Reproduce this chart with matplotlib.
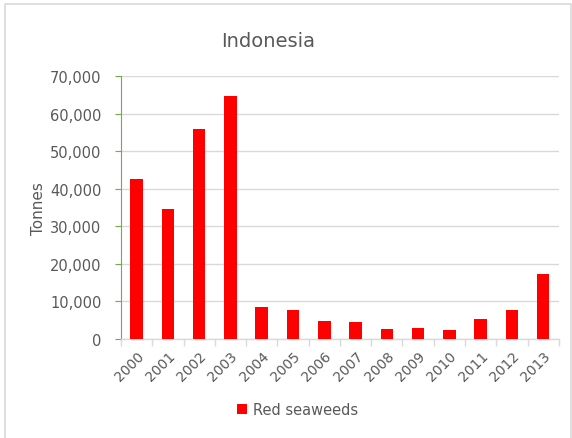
import matplotlib.pyplot as plt
from matplotlib.patches import Rectangle
from matplotlib.ticker import FuncFormatter, MultipleLocator
import numpy as np

years = ['2000', '2001', '2002', '2003', '2004', '2005', '2006',
         '2007', '2008', '2009', '2010', '2011', '2012', '2013']
red_seaweeds = [42700, 34500, 55800, 64600, 8600, 7600, 4900,
                4400, 2700, 3000, 2400, 5400, 7600, 17200]

txt = '#595959'
fig = plt.figure(figsize=(5.72, 4.39), dpi=100)
fig.patches.append(Rectangle((0.009, -0.01), 0.99, 0.998, transform=fig.transFigure,
                             fill=False, edgecolor='#d9d9d9', linewidth=1.2))

ax = fig.add_axes([0.2115, 0.2255, 0.7655, 0.599])
x = np.arange(len(years))
ax.bar(x, red_seaweeds, width=0.4, color='#ff0000', label='Red seaweeds', zorder=3)

ax.set_xlim(-0.5, len(years) - 0.5)
ax.set_ylim(0, 70000)
ax.yaxis.set_major_locator(MultipleLocator(10000))
ax.yaxis.set_major_formatter(FuncFormatter(lambda v, p: f'{int(v):,}'))
ax.grid(axis='y', color='#d9d9d9', linewidth=1, zorder=0)

ax.set_xticks(x)
ax.set_xticklabels(years, rotation=45, ha='right', rotation_mode='anchor')
ax.set_xticks(np.arange(-0.5, len(years)), minor=True)
ax.tick_params(axis='x', which='major', length=0, labelsize=10, labelcolor=txt, pad=7)
ax.tick_params(axis='x', which='minor', length=5, color='#d9d9d9', width=1)
ax.tick_params(axis='y', length=4, color='#70ad47', labelsize=10.5, labelcolor=txt, pad=10)

for s in ['top', 'right']:
    ax.spines[s].set_visible(False)
ax.spines['left'].set_color('#70ad47')
ax.spines['bottom'].set_color('#d9d9d9')
ax.spines['bottom'].set_linewidth(1)

ax.set_ylabel('Tonnes', fontsize=11, color=txt)
ax.yaxis.set_label_coords(-0.172, 0.5)
fig.text(0.468, 0.905, 'Indonesia', ha='center', va='center', fontsize=14, color=txt)

ax.legend(loc='center', bbox_to_anchor=(0.52, 0.065), bbox_transform=fig.transFigure,
          frameon=False, fontsize=10.5, labelcolor=txt, handlelength=0.7, handleheight=0.7,
          handletextpad=0.4)

fig.savefig('out.png', dpi=100)
